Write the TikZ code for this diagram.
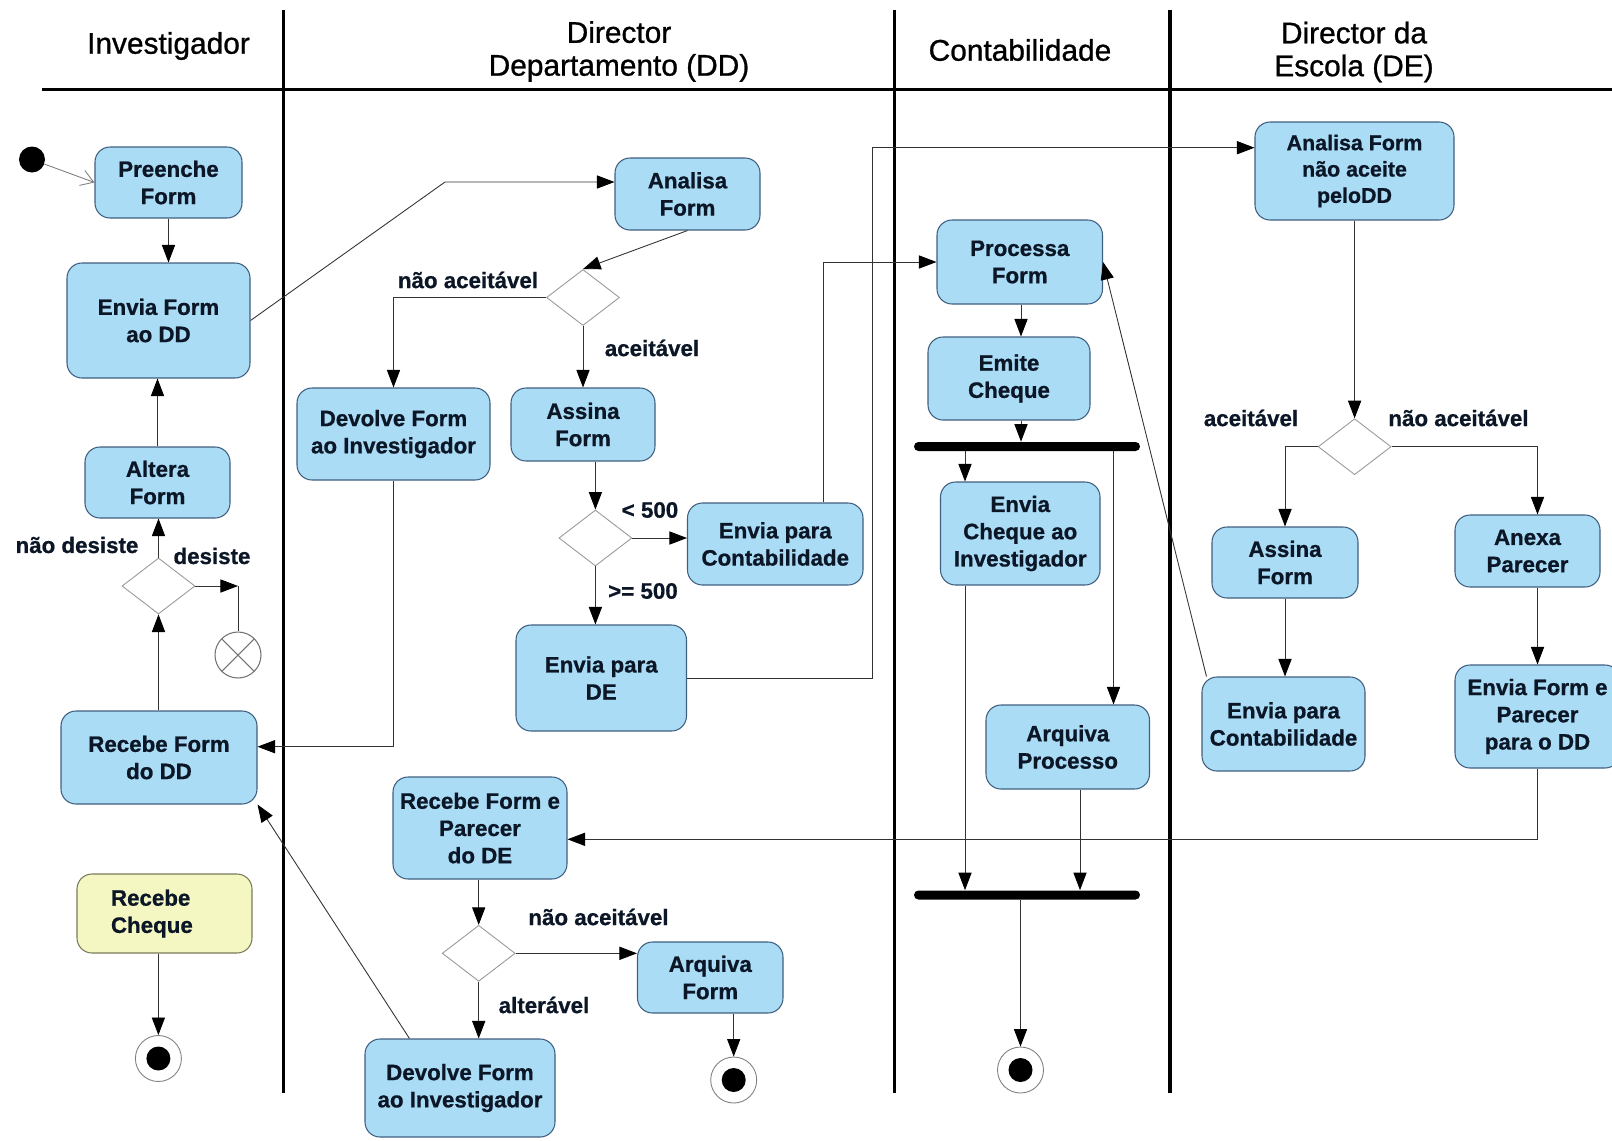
\documentclass[tikz,border=0pt]{standalone}
\usepackage{fontspec}
\setmainfont{Liberation Sans}
\newfontfamily\hdfont[FakeBold=0.9]{Liberation Sans}
\newfontfamily\boxfont[FakeBold=0.8]{Liberation Sans Bold}
\usetikzlibrary{arrows.meta,shapes.geometric,calc}
\definecolor{boxfill}{HTML}{AADCF5}
\definecolor{boxline}{HTML}{3F5F80}
\definecolor{txt}{HTML}{0B1626}
\definecolor{yfill}{HTML}{F4F7C2}
\definecolor{yline}{HTML}{7A7A5A}
\definecolor{conn}{HTML}{333333}
\newcommand\actbox[7][]{\node[abox,#1,minimum width={(#5-#3)*0.02cm},minimum height={(#6-#4)*0.02cm}] (#2) at ({(#3+#5)/2},{(#4+#6)/2}) {#7};}
\begin{document}
\begin{tikzpicture}[x=0.02cm,y=-0.02cm,
  abox/.style={draw=boxline,fill=boxfill,line width=0.6pt,rounded corners=0.3cm,inner sep=0pt,align=center,text=txt,font=\boxfont\fontsize{12.7}{15.5}\selectfont},
  ybox/.style={draw=yline,fill=yfill},
  lbl/.style={font=\boxfont\fontsize{12.7}{15}\selectfont,text=txt,inner sep=0pt},
  hdr/.style={font=\hdfont\fontsize{17}{18.7}\selectfont,align=center,inner sep=0pt,text=black},
  arr/.style={draw=conn,line width=0.5pt,-{Triangle[length=10pt,width=7.5pt,color=black]}},
  plain/.style={draw=conn,line width=0.5pt},
  openarr/.style={draw=gray,line width=0.5pt,-{Straight Barb[length=7pt,width=9pt]}},
  lane/.style={line width=1.9pt,black},
  dec/.style={diamond,draw=gray!80,fill=white,line width=0.5pt,minimum width=1.46cm,minimum height=1.12cm,inner sep=0pt},
  fin/.style={circle,draw=gray,fill=white,line width=0.5pt,minimum size=0.92cm,inner sep=0pt,path picture={\fill[black] (path picture bounding box.center) circle (0.24cm);}},
  ffin/.style={circle,draw=gray!90!black,fill=white,line width=0.6pt,minimum size=0.92cm,inner sep=0pt,path picture={\draw[gray!90!black,line width=0.6pt] (path picture bounding box.north west) -- (path picture bounding box.south east) (path picture bounding box.north east) -- (path picture bounding box.south west);}},
  startn/.style={circle,fill=black,minimum size=0.52cm,inner sep=0pt},
  bar/.style={fill=black,rounded corners=2.5pt,minimum width=4.52cm,minimum height=0.18cm,inner sep=0pt}]
\useasboundingbox (0,0) rectangle (1612,1140);
\clip (0,0) rectangle (1612,1140);
\fill[white] (0,0) rectangle (1612,1140);

% swimlanes
\draw[lane] (42,89.5) -- (1612,89.5);
\draw[lane] (283.7,10) -- (283.7,1093);
\draw[lane] (894.4,10) -- (894.4,1093);
\draw[lane] (1170,10) -- (1170,1093);
\node[hdr] (h1) at (168.5,46) {Investigador};
\node[hdr] (h2) at (619,51.5) {Director\\Departamento (DD)};
\node[hdr] (h3) at (1020,50) {Contabilidade};
\node[hdr] (h4) at (1354,52) {Director da\\Escola (DE)};

% Investigador
\node[startn] (start) at (32,159.5) {};
\actbox{pre}{95}{147}{242}{218}{Preenche\\Form}
\actbox{envdd}{67}{263}{250}{378}{Envia Form\\ao DD}
\actbox{alt}{85}{447}{230}{518}{Altera\\Form}
\node[dec] (dinv) at (158.5,586) {};
\node[ffin] (ff) at (238,655) {};
\actbox{rdd}{61}{711}{257}{804}{Recebe Form\\do DD}
\node[abox,ybox,minimum width=3.5cm,minimum height=1.58cm,inner xsep=0.68cm,text width=2.14cm,align=left] (rch) at (164.5,913.5) {Recebe\\Cheque};
\node[fin] (fin1) at (158.4,1058.5) {};

% Director Departamento
\actbox{anal}{615}{158}{760}{230}{Analisa\\Form}
\node[dec] (d1) at (583,297.5) {};
\actbox{devt}{297}{388}{490}{480}{Devolve Form\\ao Investigador}
\actbox{ass}{511}{388}{655}{461}{Assina\\Form}
\node[dec] (d2) at (595.4,538) {};
\actbox{epc}{687.5}{503}{863}{585}{Envia para\\Contabilidade}
\actbox{epde}{516}{625}{686.5}{731}{Envia para\\DE}
\actbox{rfp}{393}{777}{567}{879}{Recebe Form e\\Parecer\\do DE}
\node[dec] (d3) at (478.7,953.3) {};
\actbox{arf}{637.5}{942}{783}{1013}{Arquiva\\Form}
\node[fin] (fin2) at (733.7,1080) {};
\actbox{devb}{365}{1039}{555}{1137}{Devolve Form\\ao Investigador}

% Contabilidade
\actbox{pf}{937}{220}{1102.5}{304}{Processa\\Form}
\actbox{ec}{928}{337}{1090}{420}{Emite\\Cheque}
\node[bar] (fork) at (1027,446.5) {};
\actbox{eci}{940.5}{482}{1100}{585}{Envia\\Cheque ao\\Investigador}
\actbox{ap}{986}{705}{1149.5}{789}{Arquiva\\Processo}
\node[bar] (join) at (1027,895) {};
\node[fin] (fin3) at (1020.5,1070) {};

% Director da Escola
\actbox[font=\boxfont\fontsize{12.2}{15}\selectfont]{ade}{1255}{122}{1454}{220}{Analisa Form\\não aceite\\peloDD}
\node[dec] (d4) at (1354.6,446.7) {};
\actbox{asde}{1212}{527}{1358}{598}{Assina\\Form}
\actbox{anx}{1455}{515}{1600}{587}{Anexa\\Parecer}
\actbox{epcde}{1202}{677}{1365}{771}{Envia para\\Contabilidade}
\actbox{efp}{1455}{665}{1620}{768}{Envia Form e\\Parecer\\para o DD}

% helper coordinates
\coordinate (k1) at (445,182);
\coordinate (k2) at (823,0);
\coordinate (k3) at (872,147.7);
\coordinate (k4) at (393.3,746.7);
\coordinate (k5) at (238,586);
\coordinate (k7) at (1021,0);
\coordinate (k8) at (965,0);
\coordinate (k9) at (1113.5,0);
\coordinate (k10) at (1080,0);
\coordinate (k12) at (1537.5,0);
\coordinate (k13) at (1537.5,839.3);

% connectors - Investigador
\draw[openarr] (start) -- (pre.west);
\draw[arr] (pre.south) -- (pre.south |- envdd.north);
\draw[arr] (envdd.east) -- (k1) -- (anal.west |- k1);
\draw[arr] (rdd.north -| dinv.south) -- (dinv.south);
\draw[arr] (dinv.north) -- (dinv.north |- alt.south);
\draw[arr] (dinv.east) -- (k5);
\draw[plain] (k5) -- (ff.north);
\draw[arr] (alt.north) -- (alt.north |- envdd.south);
\draw[arr] (rch.south -| fin1.north) -- (fin1.north);

% connectors - DD
\draw[arr] (anal.south) -- (d1.north);
\draw[arr] (d1.west) -| (devt.north);
\draw[arr] (d1.south) -- (d1.south |- ass.north);
\draw[arr] (ass.south -| d2.north) -- (d2.north);
\draw[arr] (d2.east) -- (d2.east -| epc.west);
\draw[arr] (d2.south) -- (d2.south |- epde.north);
\draw[arr] (epc.north -| k2) |- (pf.west);
\draw[arr] (epde.east) -| (k3) -- (ade.west |- k3);
\draw[arr] (devt.south -| k4) -- (k4) -- (rdd.east |- k4);
\draw[arr] ([xshift=0.9cm]devb.north west) -- (rdd.south east);
\draw[arr] (rfp.south -| d3.north) -- (d3.north);
\draw[arr] (d3.east) -- (arf.west |- d3.east);
\draw[arr] (d3.south) -- (d3.south |- devb.north);
\draw[arr] (arf.south -| fin2.north) -- (fin2.north);

% connectors - Contabilidade
\draw[arr] (pf.south -| k7) -- (ec.north -| k7);
\draw[arr] (ec.south -| k7) -- (fork.north -| k7);
\draw[arr] (fork.south -| k8) -- (eci.north -| k8);
\draw[arr] (fork.south -| k9) -- (ap.north -| k9);
\draw[arr] (eci.south -| k8) -- (join.north -| k8);
\draw[arr] (ap.south -| k10) -- (join.north -| k10);
\draw[arr] (join.south -| fin3.north) -- (fin3.north);

% connectors - DE
\draw[arr] (ade.south -| d4.north) -- (d4.north);
\draw[arr] (d4.west) -| (asde.north);
\draw[arr] (d4.east) -| (anx.north -| k12);
\draw[arr] (asde.south) -- (asde.south |- epcde.north);
\draw[arr] ([xshift=0.1cm]epcde.north west) -- (pf.east);
\draw[arr] (anx.south -| k12) -- (efp.north -| k12);
\draw[arr] (efp.south -| k12) -- (k13) -- (rfp.east |- k13);

% labels
\node[lbl] (l1) at (468,280) {não aceitável};
\node[lbl] (l2) at (652,348) {aceitável};
\node[lbl] (l3) at (650,510) {< 500};
\node[lbl] (l4) at (643,591) {>= 500};
\node[lbl] (l5) at (77,545) {não desiste};
\node[lbl] (l6) at (212,556) {desiste};
\node[lbl] (l7) at (598.5,917) {não aceitável};
\node[lbl] (l8) at (544,1005) {alterável};
\node[lbl] (l9) at (1251,418) {aceitável};
\node[lbl] (l10) at (1458.5,418) {não aceitável};
\end{tikzpicture}
\end{document}
